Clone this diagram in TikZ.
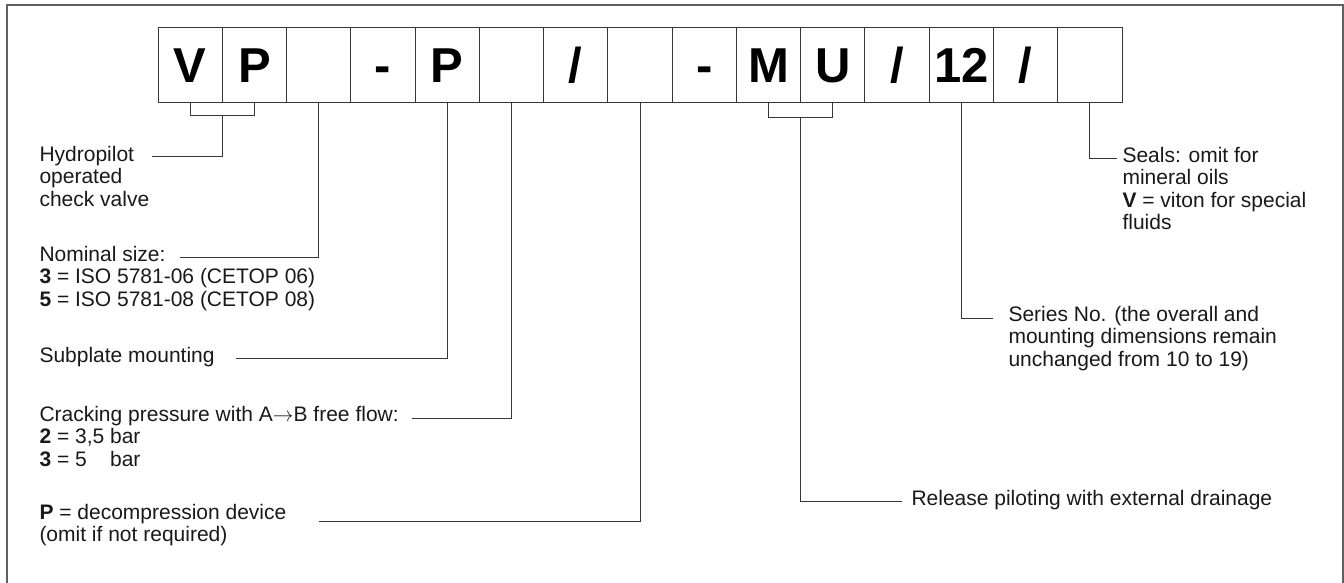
\documentclass[tikz,border=0pt]{standalone}
\usepackage{fontspec}
\setmainfont{Liberation Sans}
\definecolor{fg}{RGB}{25,25,25}
\definecolor{ln}{RGB}{55,55,55}
\definecolor{fr}{RGB}{95,95,95}
\tikzset{
  every picture/.style={fg, line width=1pt, line join=miter},
  % Typenschlüssel-Felder
  cell/.style={draw=ln, line width=1pt, anchor=north west, minimum width=64.27pt,
    minimum height=75pt, inner sep=0pt, outer sep=0pt, text height=35pt, text depth=0pt,
    text=black, font=\fontsize{49}{55}\selectfont\bfseries},
  % Beschriftungen (Anker: Grundlinie der letzten Zeile)
  lbl/.style={align=left, inner sep=0pt, anchor=base west, font=\fontsize{21}{22.5}\selectfont},
  lead/.style={ln, line width=1pt},
  frame/.style={fr, line width=1.4pt},
}
\begin{document}
\begin{tikzpicture}[x=1pt,y=-1pt]
  \useasboundingbox (0,0) rectangle (1344,583);
  \draw[frame] (7,583) -- (7,5) -- (1343,5) -- (1343,583);
  % Felder
  \foreach \t [count=\i] in {V,P,{},-,P,{},/,{},-,M,U,/,12,/,{}} {
    \node[cell] (c\i) at ({158+(\i-1)*64.27},28) {\t};
  }
  % Texte links
  \node[lbl] (hydro) at (39,206) {Hydropilot\\operated\\check valve};
  \node[lbl] (nom) at (39,306) {Nominal size:\\\textbf{3} = ISO 5781-06 (CETOP 06)\\\textbf{5} = ISO 5781-08 (CETOP 08)};
  \node[lbl] (sub) at (39,362) {Subplate mounting};
  \node[lbl] (crack) at (39,466) {Cracking pressure with A\(\rightarrow\)B free flow:\\\textbf{2} = 3,5 bar\\\textbf{3} = 5\hphantom{,5} bar};
  \node[lbl] (dec) at (39,541.5) {\textbf{P} = decompression device\\(omit if not required)};
  % Texte rechts
  \node[lbl] (seals) at (1122,229.5) {Seals: omit for\\mineral oils\\\textbf{V} = viton for special\\fluids};
  \node[lbl] (series) at (1008,366) {Series No. (the overall and\\mounting dimensions remain\\unchanged from 10 to 19)};
  \node[lbl] (rel) at (911,505) {Release piloting with external drainage};
  % freie Enden der Linien
  \coordinate (hydE) at (152,157);
  \coordinate (nomE) at (180,257);
  \coordinate (subE) at (236,358);
  \coordinate (crackE) at (412,418);
  \coordinate (decE) at (319,521);
  \coordinate (sealsE) at (1117,159);
  \coordinate (seriesE) at (993,318);
  \coordinate (relE) at (902,501);
  % Verbindungslinien
  \draw[lead] (c1.south) -- ++(0,13) coordinate (vp) -| (c2.south);
  \draw[lead] (c1.south east |- vp) |- (hydE);
  \draw[lead] (c3.south) |- (nomE);
  \draw[lead] (c5.south) |- (subE);
  \draw[lead] (c6.south) |- (crackE);
  \draw[lead] (c8.south) |- (decE);
  \draw[lead] (c10.south) -- ++(0,15) coordinate (mu) -| (c11.south);
  \draw[lead] (c10.south east |- mu) |- (relE);
  \draw[lead] (c13.south) |- (seriesE);
  \draw[lead] (c15.south) |- (sealsE);
\end{tikzpicture}
\end{document}
